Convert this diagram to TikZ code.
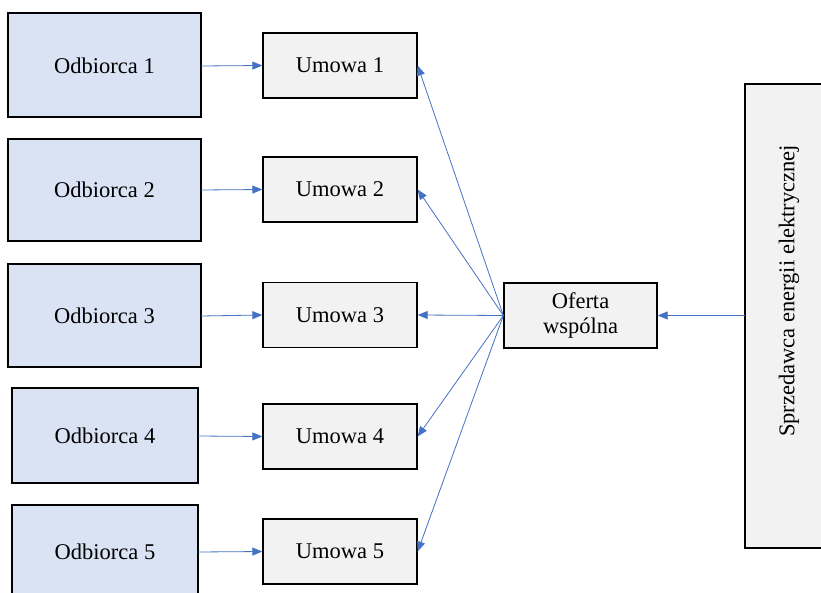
\documentclass[tikz,border=0pt]{standalone}
\usepackage{fontspec}
\setmainfont{Liberation Serif}
\usetikzlibrary{arrows.meta}
\definecolor{custfill}{HTML}{DAE3F3}
\definecolor{boxfill}{HTML}{F2F2F2}
\definecolor{linkblue}{HTML}{4472C4}
\begin{document}
\begin{tikzpicture}[x=1pt,y=-1pt,
  custbox/.style={draw=black,line width=1.3pt,fill=custfill},
  dealbox/.style={draw=black,line width=1.3pt,fill=boxfill},
  lbl/.style={font=\fontsize{22.5}{25}\selectfont,align=center},
  link/.style={draw=linkblue,line width=0.8pt,-{Triangle[length=10pt,width=8pt]}}]
\useasboundingbox (0,0) rectangle (821,593);
% customers
\draw[custbox] (8,13) rectangle (201,117);
\draw[custbox] (8,139) rectangle (201,241);
\draw[custbox] (8,264) rectangle (201,367);
\draw[custbox] (12,388) rectangle (198,483);
\draw[custbox] (12,505) rectangle (198,600);
\node[lbl] (o1) at (104.5,66) {Odbiorca 1};
\node[lbl] (o2) at (104.5,190) {Odbiorca 2};
\node[lbl] (o3) at (104.5,316) {Odbiorca 3};
\node[lbl] (o4) at (105,436) {Odbiorca 4};
\node[lbl] (o5) at (105,552) {Odbiorca 5};
\coordinate (o1e) at (201,66);
\coordinate (o2e) at (201,190);
\coordinate (o3e) at (201,316);
\coordinate (o4e) at (198,436);
\coordinate (o5e) at (198,552);
% contracts
\node[dealbox,lbl,minimum width=154pt,minimum height=65pt,inner sep=0pt] (u1) at (340,65.5) {Umowa 1};
\node[dealbox,lbl,minimum width=154pt,minimum height=65pt,inner sep=0pt] (u2) at (340,189.5) {Umowa 2};
\node[dealbox,lbl,minimum width=154pt,minimum height=65pt,inner sep=0pt] (u3) at (340,315) {Umowa 3};
\node[dealbox,lbl,minimum width=154pt,minimum height=65pt,inner sep=0pt] (u4) at (340,436.5) {Umowa 4};
\node[dealbox,lbl,minimum width=154pt,minimum height=65pt,inner sep=0pt] (u5) at (340,551.5) {Umowa 5};
% joint offer
\node[dealbox,lbl,minimum width=153pt,minimum height=65pt,inner sep=0pt] (of) at (580.5,315.5) {Oferta\\wspólna};
% seller
\draw[dealbox] (745,84) rectangle (830,548);
\node[lbl,rotate=90] (sp) at (789,291) {Sprzedawca energii elektrycznej};
\coordinate (spw) at (745,315.5);
% connectors
\draw[link] (o1e) -- (u1.west);
\draw[link] (o2e) -- (u2.west);
\draw[link] (o3e) -- (u3.west);
\draw[link] (o4e) -- (u4.west);
\draw[link] (o5e) -- (u5.west);
\draw[link] (of.west) -- (u1.east);
\draw[link] (of.west) -- (u2.east);
\draw[link] (of.west) -- (u3.east);
\draw[link] (of.west) -- (u4.east);
\draw[link] (of.west) -- (u5.east);
\draw[link] (spw) -- (of.east);
\end{tikzpicture}
\end{document}
